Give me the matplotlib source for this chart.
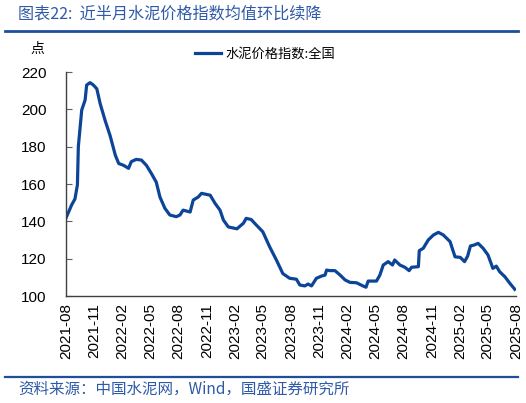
import matplotlib
matplotlib.use("Agg")
import matplotlib.pyplot as plt
import pandas as pd
from matplotlib.lines import Line2D

plt.rcParams['font.family'] = ['Liberation Sans', 'Noto Sans CJK SC', 'DejaVu Sans']

dates = ["2021-08-01","2021-08-19","2021-08-30","2021-09-07","2021-09-10","2021-09-21",
         "2021-10-02","2021-10-07","2021-10-18","2021-10-29","2021-11-09","2021-11-20",
         "2021-12-06","2021-12-22","2022-01-08","2022-01-19","2022-02-04","2022-02-20",
         "2022-03-01","2022-03-17","2022-04-03","2022-04-19","2022-05-05","2022-05-21",
         "2022-06-02","2022-06-18","2022-07-04","2022-07-25","2022-08-06","2022-08-16",
         "2022-09-08","2022-09-18","2022-10-04","2022-10-15","2022-11-12","2022-11-28",
         "2022-12-14","2022-12-25","2023-01-10","2023-02-07","2023-02-28","2023-03-09",
         "2023-03-25","2023-04-11","2023-05-02","2023-05-24","2023-06-15","2023-07-06",
         "2023-07-28","2023-08-19","2023-08-30","2023-09-15","2023-09-26","2023-10-07",
         "2023-10-23","2023-11-09","2023-11-20","2023-11-25","2023-12-06","2023-12-22",
         "2024-01-08","2024-01-24","2024-02-09","2024-03-01","2024-03-22","2024-04-01",
         "2024-04-08","2024-05-05","2024-05-16","2024-05-27","2024-06-12","2024-06-26",
         "2024-07-03","2024-07-20","2024-08-05","2024-08-19","2024-08-27","2024-09-18",
         "2024-09-21","2024-10-04","2024-10-20","2024-11-06","2024-11-22","2024-12-08",
         "2024-12-30","2025-01-15","2025-02-01","2025-02-15","2025-02-25","2025-03-06",
         "2025-03-18","2025-03-31","2025-04-16","2025-05-02","2025-05-18","2025-05-29",
         "2025-06-09","2025-06-26","2025-07-12","2025-07-28"]
values = [141.8,148.7,152.0,159.5,180.0,199.6,
          205.0,213.0,214.3,213.0,211.0,203.0,
          194.0,186.0,175.5,171.0,170.0,168.4,
          172.0,173.2,172.8,170.0,165.7,161.0,
          153.0,147.0,143.4,142.5,143.4,146.0,
          145.0,151.4,153.0,155.0,154.0,149.6,
          146.0,140.7,137.0,136.0,139.0,141.6,
          141.0,138.0,134.4,126.4,119.3,112.0,
          109.5,109.0,105.9,105.4,106.4,105.4,
          109.5,110.7,111.2,113.9,113.6,113.6,
          111.2,108.6,107.3,107.1,105.4,104.7,
          108.0,108.0,111.2,116.6,118.4,116.6,
          119.3,116.6,115.4,113.6,115.4,115.7,
          124.3,125.6,130.0,132.7,134.1,132.7,
          129.1,121.0,120.7,118.4,121.4,126.8,
          127.3,128.2,125.6,122.0,114.8,116.0,
          113.0,110.3,106.8,103.6]

tick_labels = ["2021-08","2021-11","2022-02","2022-05","2022-08","2022-11","2023-02",
               "2023-05","2023-08","2023-11","2024-02","2024-05","2024-08","2024-11",
               "2025-02","2025-05","2025-08"]
yticks = [100, 120, 140, 160, 180, 200, 220]

title = "图表22:  近半月水泥价格指数均值环比续降"
source = "资料来源：中国水泥网，Wind，国盛证券研究所"
series_name = "水泥价格指数:全国"
unit = "点"

line_color = "#0C4597"
deco_color = "#1F4E9A"

x = pd.to_datetime(dates)
tick_pos = pd.to_datetime([t + "-01" for t in tick_labels])

fig = plt.figure(figsize=(5.26, 4.03), dpi=100)
ax = fig.add_axes([0.1255, 0.2655, 0.8555, 0.5558])
ax.plot(x, values, color=line_color, lw=2.3, solid_joinstyle='round')
ax.set_xlim(tick_pos[0], tick_pos[-1])
ax.set_ylim(100, 220)
ax.set_yticks(yticks)
ax.set_yticklabels([str(v) for v in yticks], fontsize=11)
ax.set_xticks(tick_pos)
ax.set_xticklabels(tick_labels, rotation=90, fontsize=11)
for s in ['top', 'right']:
    ax.spines[s].set_visible(False)
for s in ['left', 'bottom']:
    ax.spines[s].set_color('#404040')
    ax.spines[s].set_linewidth(1.0)
ax.tick_params(axis='y', direction='in', length=4, color='#606060', pad=14)
ax.tick_params(axis='x', length=0, pad=5)

leg = ax.legend([Line2D([0], [0], color=line_color, lw=2.3)], [series_name],
                loc='upper left', bbox_to_anchor=(0.26, 1.16), frameon=False,
                prop={'family': ['Noto Sans CJK SC'], 'size': 9.5},
                handlelength=2.0, handletextpad=0.3)

fig.text(0.072, 0.878, unit, fontsize=10, family=['Noto Sans CJK SC'], ha='center', va='center')

fig.text(18 / 526, 0.965, title, fontsize=11.6, color='#2F5AA8',
         family=['Noto Sans CJK SC', 'DejaVu Sans'], ha='left', va='center')
fig.add_artist(Line2D([0.01, 0.985], [0.923, 0.923], transform=fig.transFigure,
                      color=deco_color, lw=2.0))
fig.add_artist(Line2D([0.01, 0.985], [0.064, 0.064], transform=fig.transFigure,
                      color=deco_color, lw=1.6))
fig.text(18 / 526, 0.034, source, fontsize=11.2, color='#2F5AA8',
         family=['Noto Sans CJK SC', 'DejaVu Sans'], ha='left', va='center')

fig.savefig("out.png", dpi=100)
